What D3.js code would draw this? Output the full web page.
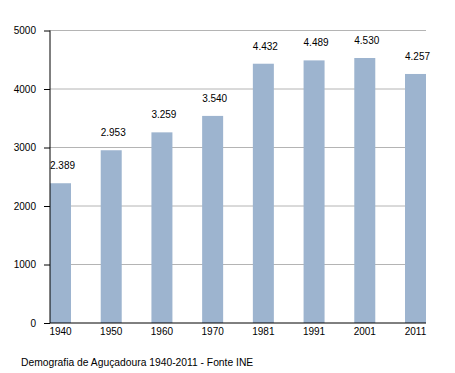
<!DOCTYPE html>
<html>
<head>
<meta charset="utf-8">
<script src="https://cdn.jsdelivr.net/npm/d3@7"></script>
<style>
  body { margin: 0; background: #fff; }
  text { font-family: "Liberation Sans", Arial, sans-serif; fill: #000; }
</style>
</head>
<body>
<svg id="chart" width="455" height="373"></svg>
<script>
// data
const years = ["1940", "1950", "1960", "1970", "1981", "1991", "2001", "2011"];
const population = [2389, 2953, 3259, 3540, 4432, 4489, 4530, 4257];
const yTicks = [0, 1000, 2000, 3000, 4000, 5000];
const caption = "Demografia de Aguçadoura 1940-2011 - Fonte INE";

const svg = d3.select("#chart");
const plotLeft = 50, plotRight = 426, plotTop = 30.5, plotBottom = 323;
const barWidth = 21;

const x = d3.scalePoint().domain(years).range([plotLeft, plotRight - barWidth]);
const y = d3.scaleLinear().domain([0, 5000]).range([plotBottom, plotTop]);

// grid lines
svg.append("g").selectAll("line").data(yTicks.filter(d => d > 0)).enter()
    .append("line")
    .attr("x1", plotLeft).attr("x2", plotRight)
    .attr("y1", d => y(d)).attr("y2", d => y(d))
    .attr("stroke", "#b4b4b4").attr("stroke-width", 1);

// bars
svg.append("g").selectAll("rect").data(population).enter()
    .append("rect")
    .attr("x", (d, i) => x(years[i]))
    .attr("y", d => y(d))
    .attr("width", barWidth)
    .attr("height", d => plotBottom - y(d))
    .attr("fill", "#9db4cf");

// value labels
const fmt = d => d3.format(",")(d).replace(",", ".");
svg.append("g").selectAll("text").data(population).enter()
    .append("text")
    .attr("x", (d, i) => x(years[i]) + barWidth / 2 + 2)
    .attr("y", d => y(d) - 14)
    .attr("text-anchor", "middle")
    .style("font-size", "10px")
    .text(d => fmt(d));

// y axis
const yAxis = svg.append("g").attr("transform", "translate(" + plotLeft + ",0)")
    .call(d3.axisLeft(y).tickValues(yTicks).tickSize(6).tickPadding(8).tickFormat(d3.format("d")));
yAxis.select(".domain").attr("stroke", "#000").attr("d", "M0," + plotTop + "V" + plotBottom);
yAxis.selectAll("text").style("font-size", "10px").style("font-family", "Liberation Sans, Arial, sans-serif");

// x axis line
svg.append("line")
    .attr("x1", plotLeft).attr("x2", plotRight)
    .attr("y1", plotBottom).attr("y2", plotBottom)
    .attr("stroke", "#000");

svg.append("g").selectAll("text").data(years).enter()
    .append("text")
    .attr("x", d => x(d) + barWidth / 2)
    .attr("y", plotBottom + 12)
    .attr("text-anchor", "middle")
    .style("font-size", "10px")
    .text(d => d);

svg.append("text")
    .attr("x", 21).attr("y", 366)
    .style("font-size", "10.3px")
    .text(caption);
</script>
</body>
</html>
